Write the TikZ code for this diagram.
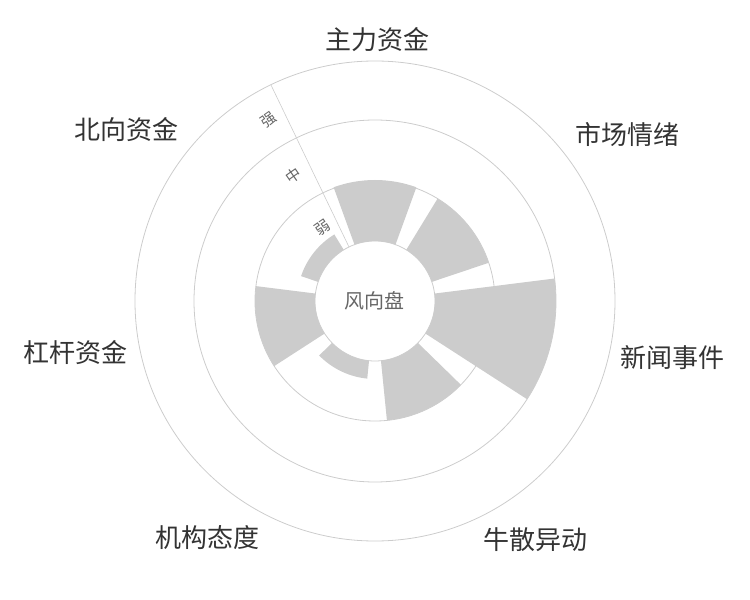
\documentclass[tikz,border=0pt]{standalone}
\usepackage{fontspec}
\newfontfamily\cjk{Noto Sans CJK SC}
\definecolor{ringGray}{HTML}{CCCCCC}
\definecolor{barGray}{HTML}{CCCCCC}
\definecolor{labelGray}{HTML}{333333}
\definecolor{axisGray}{HTML}{666666}
\tikzset{
    ring/.style={draw=ringGray, line width=0.8pt},
    catLabel/.style={font=\cjk\fontsize{26}{28}\selectfont, text=labelGray, inner sep=0pt},
    levelLabel/.style={font=\cjk\fontsize{15}{16}\selectfont, text=axisGray, inner sep=0pt, rotate=35},
}
% one bar of the wind rose: #1 centre angle, #2 outer radius
\newcommand{\roseBar}[2]{
    \fill[barGray] (#1-20:60) arc (#1-20:#1+20:60) -- (#1+20:#2) arc (#1+20:#1-20:#2) -- cycle;
}
\begin{document}
\begin{tikzpicture}[x=1pt,y=1pt]
    \useasboundingbox (-375,-299) rectangle (375,301);
    \draw[ring] (0,0) circle (240);
    \draw[ring] (0,0) circle (181);
    \draw[ring] (0,0) circle (120);
    \roseBar{90}{121}
    \roseBar{38.57}{120}
    \roseBar{-12.86}{181}
    \roseBar{-64.29}{120}
    \roseBar{-115.71}{78}
    \roseBar{-167.14}{120}
    \roseBar{141.43}{78}
    \draw[ring] (0,0) circle (60);
    \coordinate (axisIn) at (115.71:60);
    \coordinate (axisOut) at (115.71:240);
    \draw[draw=ringGray, line width=0.6pt] (axisIn) -- (axisOut);
    \node[levelLabel] (weak) at (126:90) {弱};
    \node[levelLabel] (mid) at (123:150) {中};
    \node[levelLabel] (strong) at (120.5:210) {强};
    \node[font=\cjk\fontsize{20}{22}\selectfont, text=axisGray] (hub) at (0,0) {风向盘};
    \node[catLabel] (main) at (3,261) {主力资金};
    \node[catLabel] (mood) at (252,166) {市场情绪};
    \node[catLabel] (news) at (297,-57) {新闻事件};
    \node[catLabel] (bull) at (161,-239) {牛散异动};
    \node[catLabel] (inst) at (-167,-237) {机构态度};
    \node[catLabel] (lever) at (-299,-52) {杠杆资金};
    \node[catLabel] (north) at (-248,171) {北向资金};
\end{tikzpicture}
\end{document}
